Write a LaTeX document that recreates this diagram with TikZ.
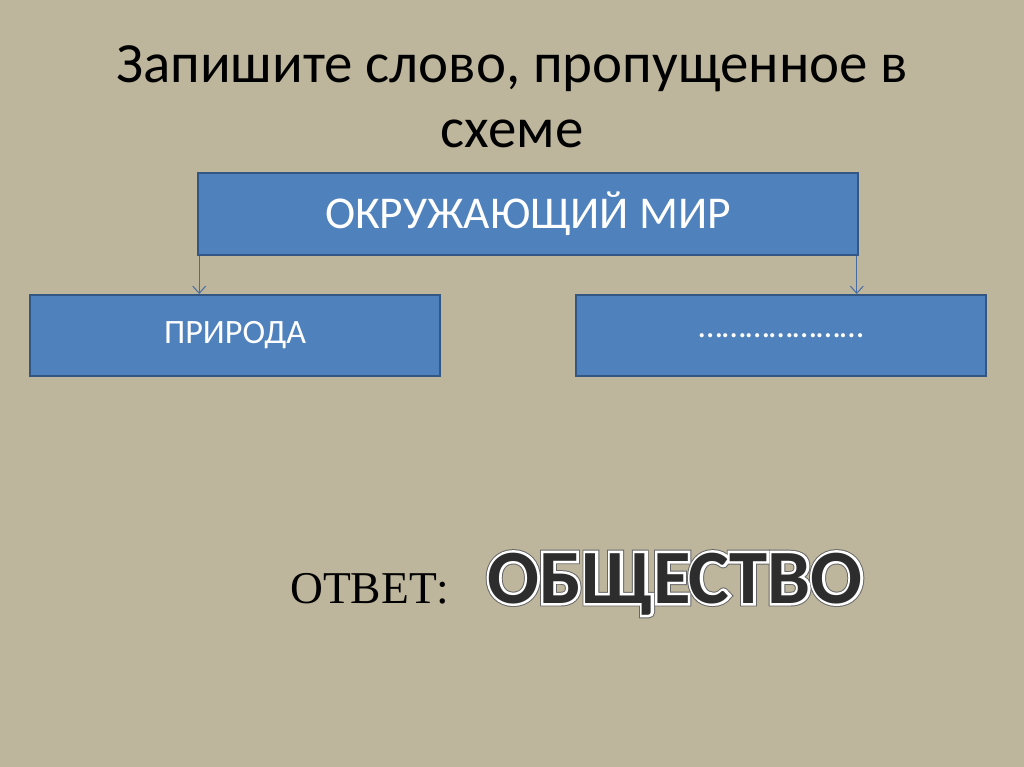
\documentclass[tikz,border=0pt]{standalone}
\usepackage{fontspec}
\setmainfont{Carlito}
\newfontfamily\timesfont{Liberation Serif}
\newfontfamily\rimfont[FakeBold=9]{Carlito Bold}
\newfontfamily\edgefont[FakeBold=6.5]{Carlito Bold}
\usetikzlibrary{arrows.meta}

\definecolor{bg}{RGB}{189,181,156}
\definecolor{boxblue}{RGB}{79,129,189}
\definecolor{boxline}{RGB}{52,86,130}
\definecolor{arrowblue}{RGB}{70,110,165}
\definecolor{wordgray}{RGB}{45,45,45}

\tikzset{
  bluebox/.style={draw=boxline, line width=1.3pt, fill=boxblue, text=white,
    font=\fontsize{24}{28}\selectfont, inner sep=0pt},
  link/.style={draw=arrowblue, line width=0.7pt, -{Straight Barb[length=5pt,width=9pt]}},
  answer/.style={anchor=base west, inner sep=0pt}
}

\begin{document}
\begin{tikzpicture}[x=0.703pt, y=-0.703pt]
    \fill[bg] (0,0) rectangle (1024,767);
    % title
    \node[font=\fontsize{40}{46}\selectfont, align=center] (title) at (512,97)
        {Запишите слово, пропущенное в\\схеме};
    % scheme
    \node[bluebox, minimum width=464pt, minimum height=57.6pt, font=\fontsize{32}{36}\selectfont] (world) at (528,214) {ОКРУЖАЮЩИЙ МИР};
    \node[bluebox, minimum width=288pt, minimum height=57pt] (nature) at (235,335.5) {ПРИРОДА};
    \node[bluebox, minimum width=288pt, minimum height=57pt] (blank) at (781,335.5) {…………………};
    \draw[link] ([xshift=1.5pt]world.south west) -- ([xshift=1.5pt]world.south west |- nature.north);
    \draw[link] ([xshift=-1.5pt]world.south east) -- ([xshift=-1.5pt]world.south east |- blank.north);
    % answer
    \node[font=\fontsize{32}{36}\timesfont, anchor=base west, inner sep=0pt] (label) at (290,603) {ОТВЕТ:};
    \node[answer, text=black!60, font=\fontsize{54}{60}\rimfont] (rim) at (487,603) {ОБЩЕСТВО};
    \node[answer, text=white, font=\fontsize{54}{60}\edgefont] (edge) at (487,603) {ОБЩЕСТВО};
    \node[answer, text=wordgray, font=\fontsize{54}{60}\bfseries] (word) at (487,603) {ОБЩЕСТВО};
\end{tikzpicture}
\end{document}
